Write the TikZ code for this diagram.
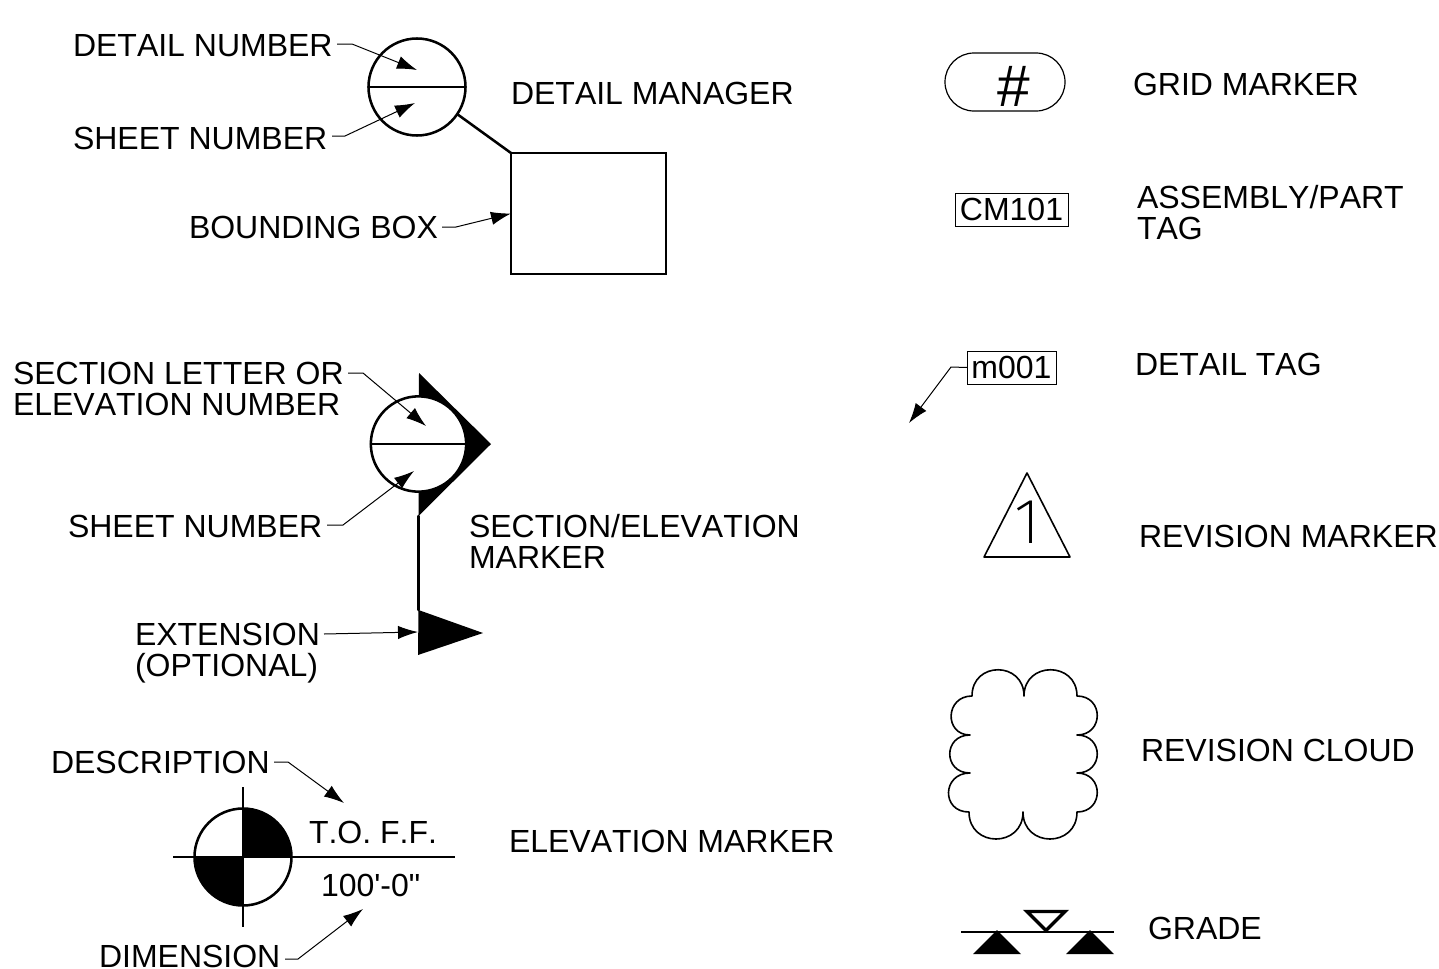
\documentclass[tikz,border=0pt]{standalone}
\usepackage{fontspec}
\setmainfont{Liberation Sans}[Kerning=Off,Ligatures=NoCommon]
\newfontfamily\plainfont{Liberation Sans}[Kerning=Off]
\newfontfamily\thinfont{Fira Sans ExtraLight}
\usetikzlibrary{arrows.meta}
\tikzset{
  lbl/.style={anchor=base west,inner sep=0pt,outer sep=0pt,font=\plainfont\fontsize{24}{23.25}\selectfont,text=black},
  lbltwo/.style={anchor=north west,inner sep=0pt,outer sep=0pt,align=left,font=\plainfont\fontsize{24}{23.25}\selectfont,text=black},
  leader/.style={line width=0.75pt,-{Latex[length=15pt,width=10pt]}},
  heavy/.style={line width=1.9pt,line cap=round,line join=round},
  thinbox/.style={draw,line width=0.75pt,inner sep=0pt,outer sep=0pt,font=\plainfont\fontsize{24}{24}\selectfont},
  symcircle/.style={circle,draw,line width=1.9pt,inner sep=0pt,outer sep=0pt,fill=white}
}
\begin{document}
\begin{tikzpicture}[x=0.75pt,y=-0.75pt]
\useasboundingbox (0,0) rectangle (1439,968);
\clip (0,0) rectangle (1439,968);
\fill[white] (0,0) rectangle (1439,968);

% ---- detail manager
\node[symcircle,minimum size=72.75pt] (dm) at (417,87) {};
\draw[heavy] (dm.west) -- (dm.east);
\node[draw,line width=1.9pt,inner sep=0pt,outer sep=0pt,minimum width=116.25pt,minimum height=90.75pt] (bb) at (588.5,213.5) {};
\draw[heavy] (dm.-34) -- (bb.north west);
\node[lbl] (lDetNum) at (73,56) {DETAIL NUMBER};
\node[lbl] (lShtNum) at (73,149) {SHEET NUMBER};
\node[lbl] (lBB) at (189,238) {BOUNDING BOX};
\node[lbl] (lDM) at (511,104) {DETAIL MANAGER};
\coordinate (tDet) at (417,70);
\coordinate (tSht) at (415,103);
\draw[leader] (337,44) coordinate (s1) -- (352,44) -- (tDet);
\draw[leader] (332,136) coordinate (s2) -- (345,136) -- (tSht);
\draw[leader] (442,227) coordinate (s3) -- (456,227) -- (bb.west);

% ---- section marker
\fill[black] (419,373) coordinate (a1) -- (491,444) coordinate (a2) -- (418.5,516) coordinate (a3) -- cycle;
\node[symcircle,minimum size=71.5pt] (sc) at (418.5,444) {};
\draw[heavy] (sc.west) -- (sc.east);
\fill[black] (418.5,610) coordinate (b1) -- (483,633) coordinate (b2) -- (418,655) coordinate (b3) -- cycle;
\draw[heavy] (a3) -- (b1);
\node[lbltwo] (lSec) at (13,362) {SECTION LETTER OR\\ELEVATION NUMBER};
\node[lbl] (lSht2) at (68,537) {SHEET NUMBER};
\node[lbltwo] (lExt) at (135,623) {EXTENSION\\(OPTIONAL)};
\node[lbltwo] (lSE) at (469,514) {SECTION/ELEVATION\\MARKER};
\coordinate (tSec) at (426,426);
\coordinate (tSht2) at (414,471);
\coordinate (tExt) at (418,632);
\draw[leader] (348,373) -- (363,373) -- (tSec);
\draw[leader] (327,525) -- (343,525) -- (tSht2);
\draw[leader] (324,634) -- (tExt);

% ---- elevation marker
\node[symcircle,minimum size=72.75pt] (el) at (243,857) {};
\fill[black] (el.center) -- (243,808.5) arc[start angle=90,end angle=0,radius=36.375pt] -- cycle;
\fill[black] (el.center) -- (243,905.5) arc[start angle=270,end angle=180,radius=36.375pt] -- cycle;
\draw[line width=1.9pt] (243,787) coordinate (v1) -- (243,927) coordinate (v2);
\draw[line width=1.9pt] (173,857) coordinate (h1) -- (455,857) coordinate (h2);
\node[lbl] (lDesc) at (51,773) {DESCRIPTION};
\node[lbl] (lDim) at (99,967.5) {DIMENSION};
\node[lbl] (lEM) at (509,852) {ELEVATION MARKER};
\node[lbl] (lTO) at (309,843) {T.O. F.F.};
\node[lbl] (lHun) at (321,896) {100'-0"};
\coordinate (tDesc) at (344,803);
\coordinate (tDim) at (363,909);
\draw[leader] (274,762) -- (288,762) -- (tDesc);
\draw[leader] (285,959) -- (298,959) -- (tDim);

% ---- grid marker
\node[draw,line width=0.9pt,rounded corners=21.7pt,inner sep=0pt,outer sep=0pt,minimum width=90pt,minimum height=43.5pt] (gm) at (1005,82) {};
\node[inner sep=0pt,font=\plainfont\fontsize{44}{44}\selectfont] (hash) at (1014,86) {\#};
\node[lbl] (lGM) at (1133,95) {GRID MARKER};

% ---- tags
\node[thinbox,minimum width=84.75pt,minimum height=24.75pt] (cm) at (1011.5,209.5) {CM101};
\node[lbltwo] (lAP) at (1137,185) {ASSEMBLY/PART\\TAG};
\node[thinbox,minimum width=66.75pt,minimum height=24.75pt] (mt) at (1011.5,367.5) {\raisebox{-1pt}{m001}};
\node[lbl] (lDT) at (1135,375) {DETAIL TAG};
\coordinate (tMt) at (909,423);
\draw[leader] (mt.west) -- (951,367) -- (tMt);

% ---- revision marker
\draw[line width=1.2pt,line join=round] (1027,473) coordinate (r1) -- (1070,557) coordinate (r2) -- (984,557) coordinate (r3) -- cycle;
\node[inner sep=0pt,font=\thinfont\fontsize{48}{48}\selectfont] (rev) at (1027,522) {1};
\node[lbl] (lRM) at (1139,547) {REVISION MARKER};

% ---- revision cloud
\draw[line width=1.2pt,line join=round]
  (972,696) .. controls (972,661) and (1024,661) .. (1024,696)
  .. controls (1024,661) and (1077,661) .. (1077,696)
  .. controls (1104,696) and (1104,735) .. (1077,735)
  .. controls (1104,735) and (1104,773) .. (1077,773)
  .. controls (1104,773) and (1104,812) .. (1077,812)
  .. controls (1077,848) and (1023,848) .. (1023,812)
  .. controls (1023,848) and (969,848) .. (969,812)
  .. controls (941,812) and (942,773) .. (970,773)
  .. controls (943,773) and (943,735) .. (970,735)
  .. controls (944,735) and (945,696) .. (972,696) -- cycle;
\node[lbl] (lRC) at (1141,761) {REVISION CLOUD};

% ---- grade
\draw[line width=1.5pt] (961,932) coordinate (g1) -- (1114,932) coordinate (g2);
\draw[line width=2.6pt,miter limit=10] (1027,911.5) coordinate (g3) -- (1065,911.5) coordinate (g4) -- (1046,930.5) coordinate (g5) -- cycle;
\fill[black] (997,930) -- (1021,954) -- (973,954) -- cycle;
\fill[black] (1090,930) -- (1114,954) -- (1066,954) -- cycle;
\node[lbl] (lGr) at (1148,939) {GRADE};
\end{tikzpicture}
\end{document}
